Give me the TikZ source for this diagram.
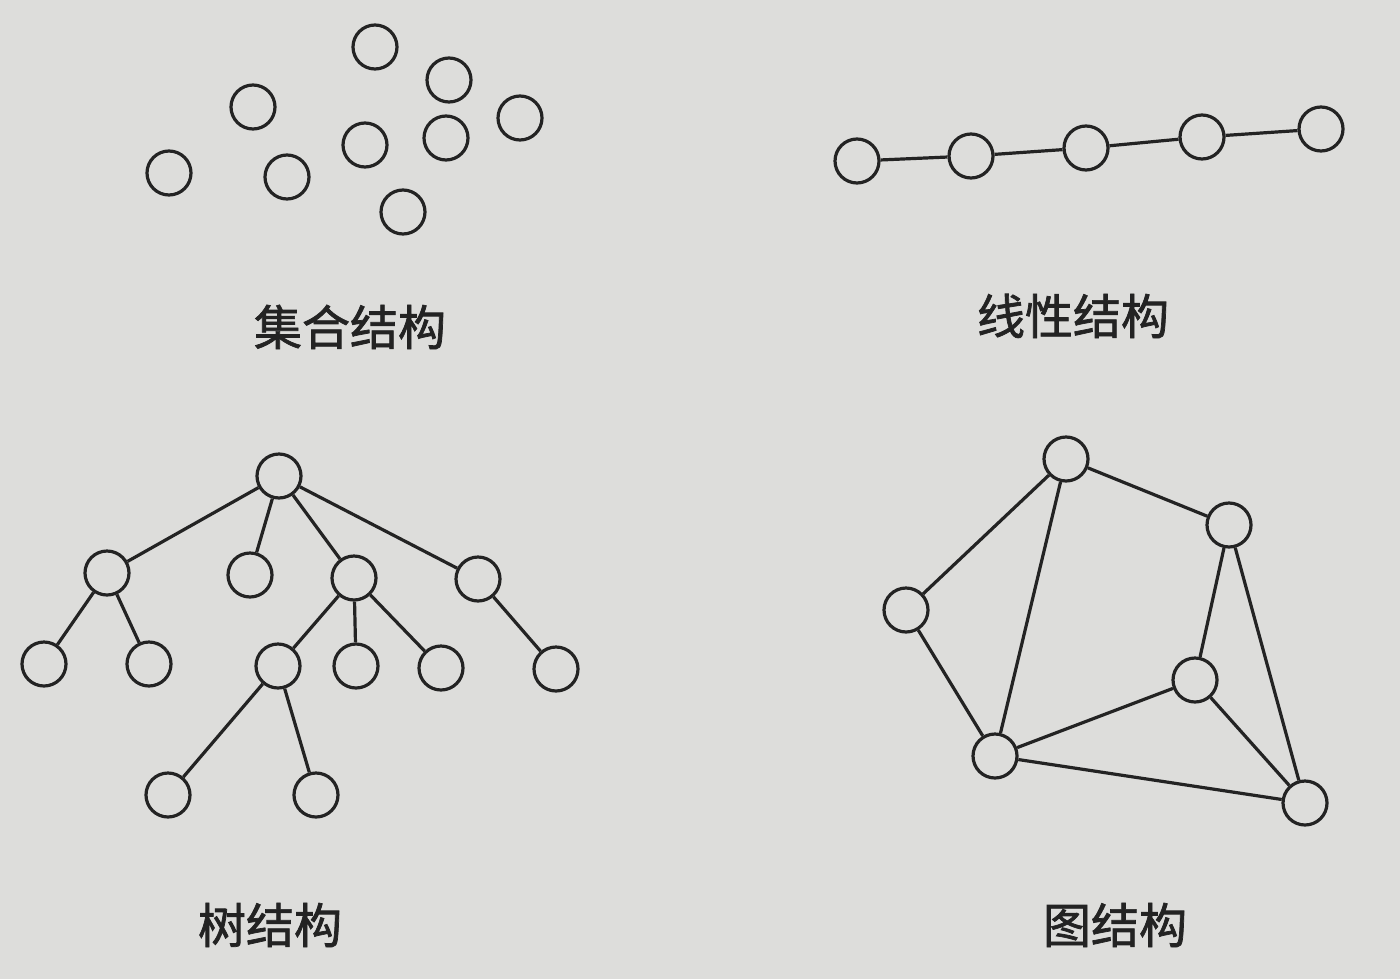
\documentclass[tikz,border=0pt]{standalone}
\usepackage{fontspec}
\newfontfamily\cjk[FakeBold=1.5]{Noto Sans CJK SC}
\definecolor{paper}{RGB}{221,221,219}
\definecolor{ink}{RGB}{35,35,35}
\begin{document}
\begin{tikzpicture}[x=0.5pt,y=-0.5pt,
  vtx/.style={circle,draw=ink,line width=1.6pt,minimum size=22pt,inner sep=0pt,fill=paper},
  edge/.style={draw=ink,line width=1.6pt},
  lbl/.style={text=ink,font=\cjk\fontsize{24}{24}\selectfont,inner sep=0pt}]
\fill[paper] (0,0) rectangle (1400,979);
\useasboundingbox (0,0) rectangle (1400,979);
% set structure
\node[vtx] (s1) at (375,47) {};
\node[vtx] (s2) at (449,80) {};
\node[vtx] (s3) at (253,107) {};
\node[vtx] (s4) at (520,118) {};
\node[vtx] (s5) at (365,145) {};
\node[vtx] (s6) at (446,138) {};
\node[vtx] (s7) at (169,173) {};
\node[vtx] (s8) at (287,177) {};
\node[vtx] (s9) at (403,212) {};
\node[lbl] (ls) at (350,327) {集合结构};
% linear structure
\node[vtx] (l1) at (857,161) {};
\node[vtx] (l2) at (971,156) {};
\node[vtx] (l3) at (1086,148) {};
\node[vtx] (l4) at (1202,137) {};
\node[vtx] (l5) at (1321,129) {};
\draw[edge] (l1)--(l2) (l2)--(l3) (l3)--(l4) (l4)--(l5);
\node[lbl] (ll) at (1073,316) {线性结构};
% tree structure
\node[vtx] (r) at (279,476) {};
\node[vtx] (a) at (107,573) {};
\node[vtx] (b) at (250,575) {};
\node[vtx] (c) at (354,578) {};
\node[vtx] (d) at (478,579) {};
\node[vtx] (a1) at (44,664) {};
\node[vtx] (a2) at (149,664) {};
\node[vtx] (c1) at (278,666) {};
\node[vtx] (c2) at (356,666) {};
\node[vtx] (c3) at (441,668) {};
\node[vtx] (d1) at (556,669) {};
\node[vtx] (e1) at (168,795) {};
\node[vtx] (e2) at (316,795) {};
\draw[edge] (r)--(a) (r)--(b) (r)--(c) (r)--(d)
  (a)--(a1) (a)--(a2) (c)--(c1) (c)--(c2) (c)--(c3) (d)--(d1)
  (c1)--(e1) (c1)--(e2);
\node[lbl] (lt) at (270,925) {树结构};
% graph structure
\node[vtx] (gA) at (1066,459) {};
\node[vtx] (gB) at (1229,525) {};
\node[vtx] (gC) at (906,610) {};
\node[vtx] (gD) at (1195,680) {};
\node[vtx] (gE) at (995,756) {};
\node[vtx] (gF) at (1305,803) {};
\draw[edge] (gA)--(gB) (gA)--(gC) (gA)--(gE) (gB)--(gD) (gB)--(gF)
  (gC)--(gE) (gD)--(gE) (gD)--(gF) (gE)--(gF);
\node[lbl] (lg) at (1115,925) {图结构};
\end{tikzpicture}
\end{document}
